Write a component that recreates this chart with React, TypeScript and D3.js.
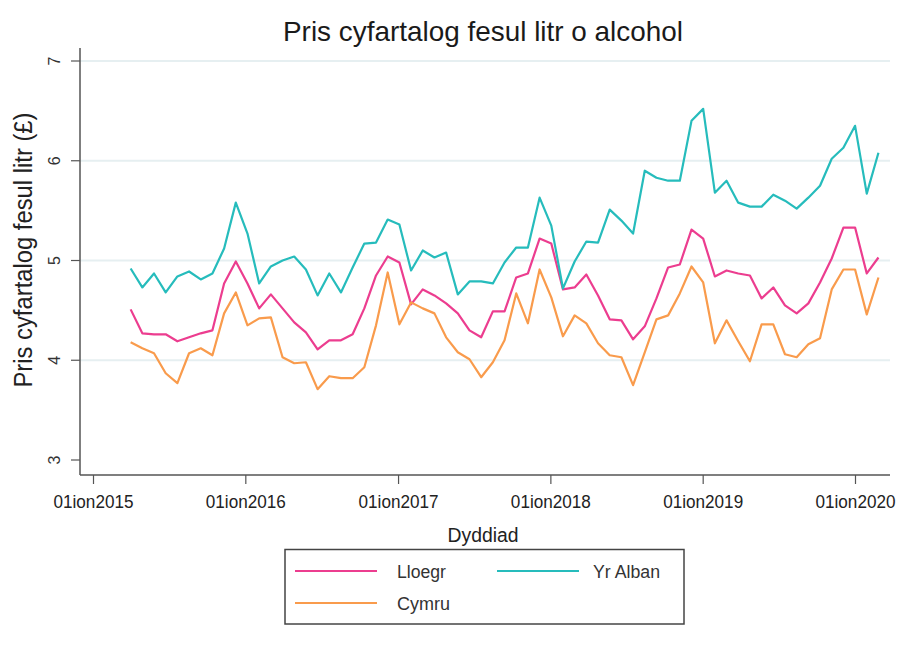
import React from "react";
import * as d3 from "d3";

const periodStart = new Date(2015, 2, 31);
const periodDays = 28;

const lloegr = [4.51, 4.27, 4.26, 4.26, 4.19, 4.23, 4.27, 4.30, 4.77, 4.99, 4.77, 4.52, 4.66, 4.52, 4.38, 4.28, 4.11, 4.20, 4.20, 4.26, 4.52, 4.85, 5.04, 4.98, 4.56, 4.71, 4.65, 4.57, 4.47, 4.30, 4.23, 4.49, 4.49, 4.83, 4.87, 5.22, 5.17, 4.71, 4.73, 4.86, 4.65, 4.41, 4.40, 4.21, 4.34, 4.62, 4.93, 4.96, 5.31, 5.22, 4.84, 4.90, 4.87, 4.85, 4.62, 4.73, 4.55, 4.47, 4.57, 4.78, 5.02, 5.33, 5.33, 4.87, 5.03];
const yrAlban = [4.92, 4.73, 4.87, 4.68, 4.84, 4.89, 4.81, 4.87, 5.12, 5.58, 5.27, 4.77, 4.94, 5.00, 5.04, 4.91, 4.65, 4.87, 4.68, 4.93, 5.17, 5.18, 5.41, 5.36, 4.90, 5.10, 5.03, 5.08, 4.66, 4.79, 4.79, 4.77, 4.98, 5.13, 5.13, 5.63, 5.35, 4.72, 4.99, 5.19, 5.18, 5.51, 5.40, 5.27, 5.90, 5.83, 5.80, 5.80, 6.40, 6.52, 5.68, 5.80, 5.58, 5.54, 5.54, 5.66, 5.60, 5.52, 5.63, 5.75, 6.02, 6.13, 6.35, 5.67, 6.08];
const cymru = [4.18, 4.12, 4.07, 3.87, 3.77, 4.07, 4.12, 4.05, 4.47, 4.68, 4.35, 4.42, 4.43, 4.03, 3.97, 3.98, 3.71, 3.84, 3.82, 3.82, 3.93, 4.35, 4.88, 4.36, 4.58, 4.52, 4.47, 4.23, 4.08, 4.01, 3.83, 3.98, 4.20, 4.67, 4.37, 4.91, 4.63, 4.24, 4.45, 4.37, 4.17, 4.05, 4.03, 3.75, 4.08, 4.41, 4.45, 4.67, 4.94, 4.78, 4.17, 4.40, 4.19, 3.99, 4.36, 4.36, 4.06, 4.03, 4.16, 4.22, 4.71, 4.91, 4.91, 4.46, 4.83];

const yTicks = [3, 4, 5, 6, 7];
const yGrid = [4, 5, 6, 7];
const xTickYears = [2015, 2016, 2017, 2018, 2019, 2020];

const seriesNames = ["Lloegr", "Yr Alban", "Cymru"];
const seriesColors = ["#ec3d8f", "#26bcbc", "#f99b4c"];

const FONT = "'Liberation Sans', Arial, sans-serif";

export default function App() {
  const x = d3.scaleTime().domain([new Date(2015, 0, 1), new Date(2020, 0, 1)]).range([93.5, 855.5]);
  const y = d3.scaleLinear().domain([3, 7]).range([460, 61]);
  const dates = lloegr.map((_, i) => d3.timeDay.offset(periodStart, i * periodDays));
  const line = d3.line<number>().x((_, i) => x(dates[i])).y((v) => y(v));
  const data = [lloegr, yrAlban, cymru];
  const axisColor = "#555";
  const xAxisY = 475;
  const yAxisX = 80;

  const legendItems = [
    { name: seriesNames[0], color: seriesColors[0], lx: 295, ly: 571, tx: 397, tw: 49 },
    { name: seriesNames[1], color: seriesColors[1], lx: 497, ly: 571, tx: 593, tw: 67 },
    { name: seriesNames[2], color: seriesColors[2], lx: 295, ly: 603, tx: 397, tw: 53 },
  ];

  return (
    <svg width={904} height={648} style={{ position: "absolute", left: 0, top: 0, background: "#fff" }} fontFamily={FONT}>
      <rect x={0} y={0} width={904} height={648} fill="#fff" />
      <text x={483} y={41} textAnchor="middle" fontSize={28} fill="#1a1a1a" textLength={400} lengthAdjust="spacingAndGlyphs">Pris cyfartalog fesul litr o alcohol</text>
      {yGrid.map((t) => (
        <line key={"g" + t} x1={yAxisX} x2={890} y1={y(t)} y2={y(t)} stroke="#e6eff1" strokeWidth={2} />
      ))}
      {data.map((d, k) => (
        <path key={k} d={line(d) || ""} fill="none" stroke={seriesColors[k]} strokeWidth={2.2} strokeLinejoin="round" />
      ))}
      <line x1={yAxisX} x2={yAxisX} y1={48} y2={xAxisY} stroke={axisColor} strokeWidth={1.5} />
      <line x1={yAxisX} x2={890} y1={xAxisY} y2={xAxisY} stroke={axisColor} strokeWidth={1.5} />
      {yTicks.map((t) => (
        <g key={"y" + t}>
          <line x1={71} x2={yAxisX} y1={y(t)} y2={y(t)} stroke={axisColor} strokeWidth={1.2} />
          <text transform={`translate(${60},${y(t)}) rotate(-90)`} textAnchor="middle" fontSize={16} fill="#333">{t}</text>
        </g>
      ))}
      {xTickYears.map((yr) => {
        const px = x(new Date(yr, 0, 1));
        return (
          <g key={"x" + yr}>
            <line x1={px} x2={px} y1={xAxisY} y2={484} stroke={axisColor} strokeWidth={1.2} />
            <text x={px} y={508} textAnchor="middle" fontSize={18} fill="#222" textLength={80} lengthAdjust="spacingAndGlyphs">{"01ion" + yr}</text>
          </g>
        );
      })}
      <text x={483} y={542} textAnchor="middle" fontSize={20} fill="#222" textLength={71} lengthAdjust="spacingAndGlyphs">Dyddiad</text>
      <text transform={`translate(${32},${250}) rotate(-90)`} textAnchor="middle" fontSize={25} fill="#222" textLength={275} lengthAdjust="spacingAndGlyphs">Pris cyfartalog fesul litr (£)</text>
      <rect x={285} y={549.5} width={399} height={74.5} fill="none" stroke="#444" strokeWidth={1.5} />
      {legendItems.map((it) => (
        <g key={it.name}>
          <line x1={it.lx} x2={it.lx + 82} y1={it.ly} y2={it.ly} stroke={it.color} strokeWidth={2.2} />
          <text x={it.tx} y={it.ly + 7} fontSize={17.5} fill="#333" textLength={it.tw} lengthAdjust="spacingAndGlyphs">{it.name}</text>
        </g>
      ))}
    </svg>
  );
}
